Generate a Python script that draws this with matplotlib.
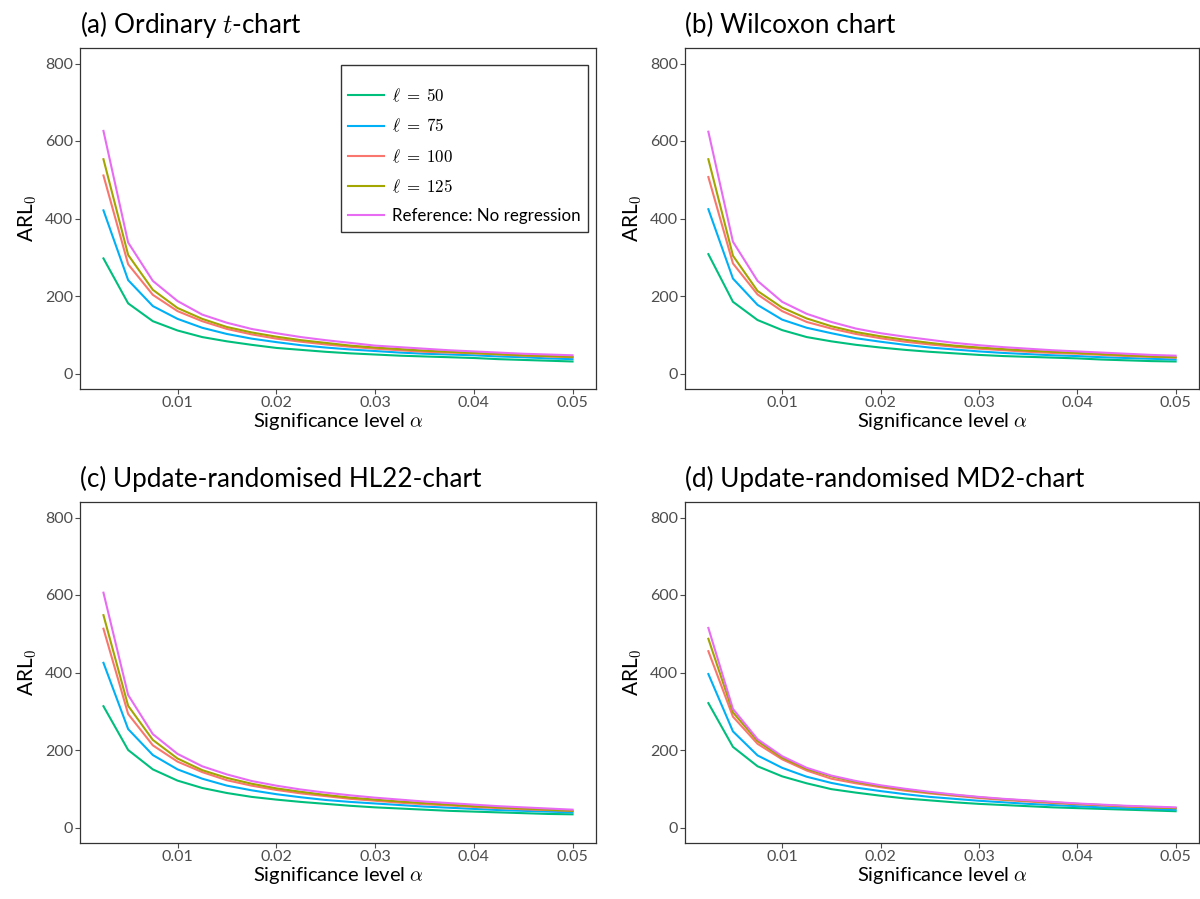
import matplotlib
matplotlib.use("Agg")
import matplotlib.pyplot as plt

plt.rcParams['mathtext.fontset'] = 'cm'
plt.rcParams['font.family'] = ['Lato', 'DejaVu Sans']

alpha = [0.0025, 0.005, 0.0075, 0.01, 0.0125, 0.015, 0.0175, 0.02, 0.0225, 0.025,
         0.0275, 0.03, 0.0325, 0.035, 0.0375, 0.04, 0.0425, 0.045, 0.0475, 0.05]

series_labels = [r'$\ell\;=\;50$', r'$\ell\;=\;75$', r'$\ell\;=\;100$', r'$\ell\;=\;125$',
                 'Reference: No regression']
series_colors = ['#00BF7D', '#00B0F6', '#F8766D', '#A3A500', '#E76BF3']

titles = ['(a) Ordinary $t$-chart', '(b) Wilcoxon chart',
          '(c) Update-randomised HL22-chart', '(d) Update-randomised MD2-chart']

# panel (a)
a_l50 = [297, 181, 135, 111, 94, 83, 74, 66, 61, 56, 52, 49, 46, 44, 42, 40, 37, 35, 33, 31]
a_l75 = [421, 241, 174, 141, 118, 102, 90, 81, 73, 67, 62, 58, 54, 51, 49, 47, 44, 42, 39, 37]
a_l100 = [511, 282, 203, 161, 135, 115, 101, 90, 82, 75, 69, 64, 60, 56, 54, 52, 49, 46, 44, 42]
a_l125 = [553, 306, 216, 169, 141, 120, 106, 95, 86, 79, 72, 67, 63, 59, 56, 53, 50, 47, 45, 43]
a_ref = [626, 338, 239, 187, 152, 131, 115, 104, 94, 86, 79, 72, 68, 64, 60, 57, 54, 51, 49, 47]

# panel (b)
b_l50 = [308, 185, 138, 112, 94, 83, 74, 67, 61, 56, 52, 48, 45, 43, 41, 39, 36, 34, 32, 31]
b_l75 = [424, 245, 177, 139, 118, 104, 91, 82, 74, 67, 62, 57, 53, 50, 47, 45, 42, 40, 38, 36]
b_l100 = [507, 284, 204, 161, 133, 116, 102, 91, 82, 75, 69, 64, 60, 56, 53, 51, 48, 45, 43, 41]
b_l125 = [553, 304, 213, 170, 142, 122, 107, 96, 87, 79, 72, 67, 63, 59, 56, 53, 50, 47, 44, 42]
b_ref = [624, 340, 239, 185, 154, 133, 116, 104, 95, 87, 79, 73, 68, 64, 60, 57, 54, 51, 48, 46]

# panel (c)
c_l50 = [313, 200, 150, 121, 102, 89, 79, 72, 66, 61, 56, 52, 49, 46, 43, 41, 39, 37, 35, 34]
c_l75 = [425, 254, 187, 150, 126, 108, 96, 86, 78, 71, 66, 62, 58, 54, 51, 48, 45, 43, 41, 39]
c_l100 = [513, 293, 212, 170, 143, 122, 108, 97, 88, 81, 74, 69, 64, 60, 57, 53, 50, 47, 45, 43]
c_l125 = [548, 314, 226, 178, 148, 128, 113, 101, 92, 84, 77, 72, 67, 63, 59, 55, 52, 49, 46, 43]
c_ref = [606, 342, 241, 190, 158, 137, 120, 108, 98, 90, 83, 77, 72, 67, 63, 59, 55, 52, 49, 46]

# panel (d)
d_l50 = [321, 208, 158, 132, 114, 99, 90, 82, 75, 70, 65, 61, 58, 55, 52, 50, 48, 46, 44, 42]
d_l75 = [396, 248, 186, 154, 131, 115, 103, 94, 86, 79, 74, 69, 65, 61, 58, 55, 52, 50, 48, 46]
d_l100 = [455, 286, 216, 176, 147, 126, 114, 104, 95, 88, 82, 76, 71, 67, 63, 60, 57, 54, 52, 50]
d_l125 = [487, 297, 223, 180, 151, 132, 118, 107, 98, 90, 84, 78, 73, 69, 65, 61, 58, 55, 52, 50]
d_ref = [515, 306, 228, 184, 154, 134, 120, 109, 100, 92, 85, 79, 74, 70, 66, 62, 59, 56, 54, 52]

panels = [
    [a_l50, a_l75, a_l100, a_l125, a_ref],
    [b_l50, b_l75, b_l100, b_l125, b_ref],
    [c_l50, c_l75, c_l100, c_l125, c_ref],
    [d_l50, d_l75, d_l100, d_l125, d_ref],
]

xticks = [0.01, 0.02, 0.03, 0.04, 0.05]
xticklabels = ['0.01', '0.02', '0.03', '0.04', '0.05']
yticks = [0, 200, 400, 600, 800]

W, H = 1200, 899
fig = plt.figure(figsize=(W / 100, H / 100), dpi=100)

# pixel boxes: (left, top, right, bottom)
boxes = [(80, 48, 596, 389), (685, 48, 1199, 389),
         (80, 502, 596, 843), (685, 502, 1199, 843)]

grey = '#4D4D4D'
for i, (box, data) in enumerate(zip(boxes, panels)):
    l, t, r, b = box
    ax = fig.add_axes([l / W, 1 - b / H, (r - l) / W, (b - t) / H])
    for vals, lab, col in zip(data, series_labels, series_colors):
        ax.plot(alpha, vals, color=col, lw=1.5, label=lab)
    rng = alpha[-1] - alpha[0]
    ax.set_xlim(alpha[0] - 0.05 * rng, alpha[-1] + 0.05 * rng)
    ax.set_ylim(-40, 840)
    ax.set_xticks(xticks)
    ax.set_xticklabels(xticklabels)
    ax.set_yticks(yticks)
    ax.tick_params(colors=grey, labelsize=11.5, length=3.5, width=0.8, pad=1.5)
    ax.tick_params(labelcolor=grey)
    for sp in ax.spines.values():
        sp.set_color('#333333')
        sp.set_linewidth(0.9)
    ax.set_xlabel(r'Significance level $\alpha$', fontsize=14.5, labelpad=0.5, color='black')
    ax.set_ylabel(r'ARL$_0$', fontsize=15, labelpad=4, color='black')
    ax.set_title(titles[i], fontsize=18.8, loc='left', x=0.0, pad=11, color='black')
    if i == 0:
        leg = ax.legend(loc='upper right', bbox_to_anchor=(0.9845, 0.950), fontsize=12.2,
                        frameon=True, fancybox=False, edgecolor='black',
                        handlelength=2.1, handletextpad=0.45, labelspacing=0.76,
                        borderpad=0.46, borderaxespad=0.0,
                        title=' ', title_fontsize=1)
        leg.get_frame().set_linewidth(1.0)

fig.savefig('out.png', dpi=100)
